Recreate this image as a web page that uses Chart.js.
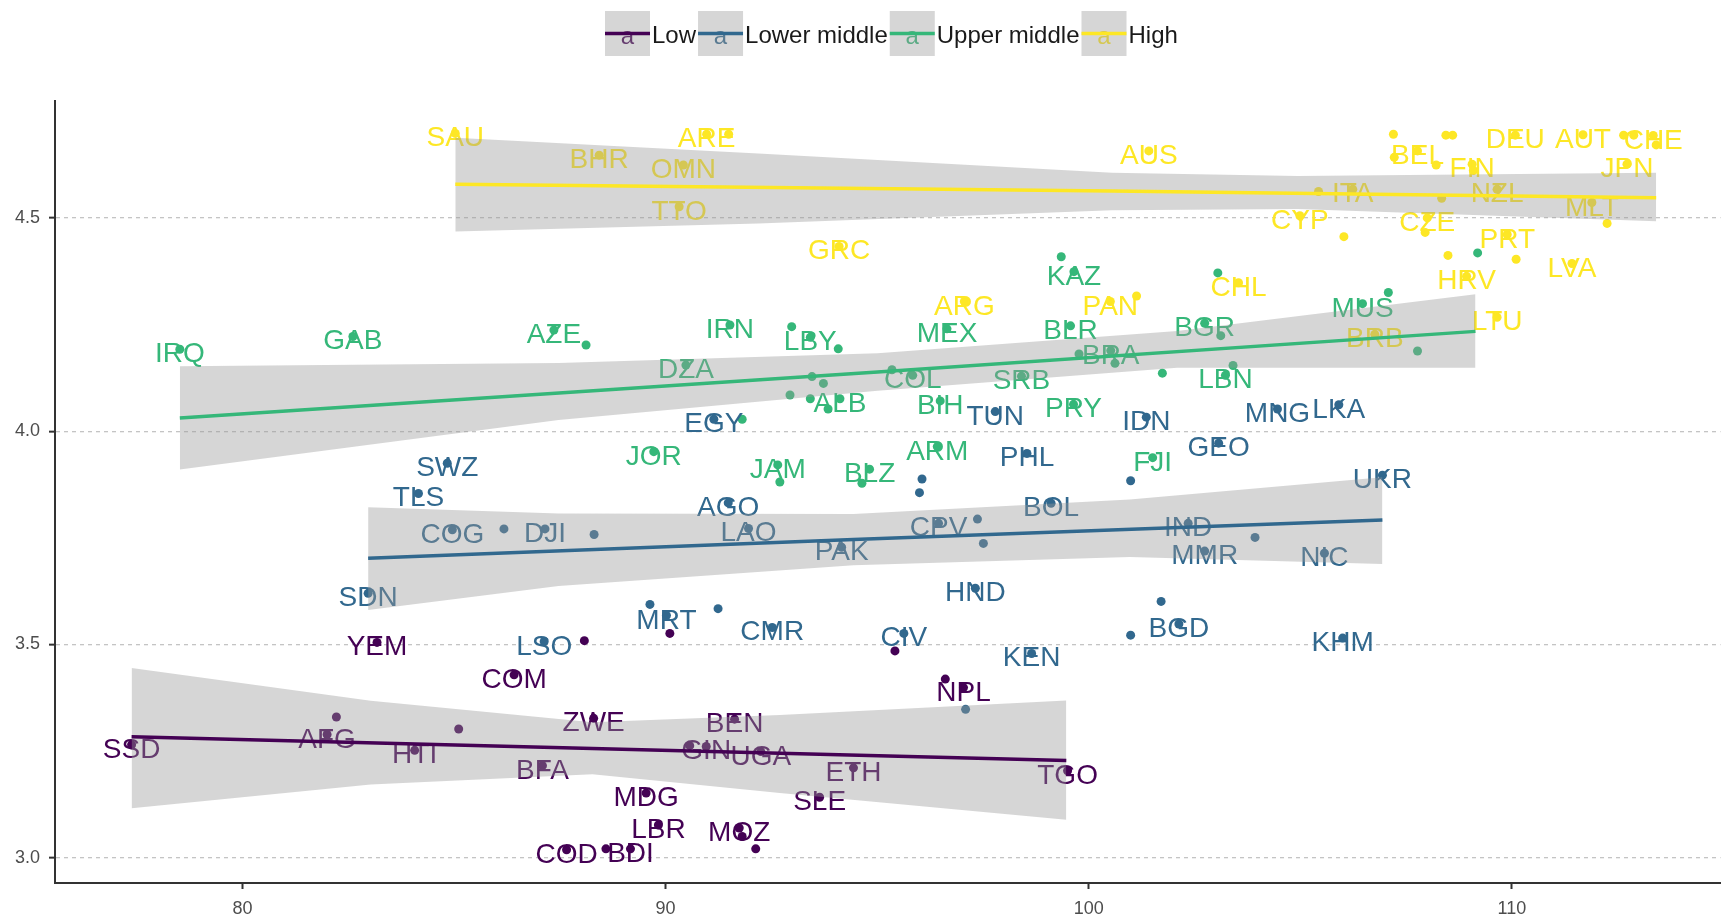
<!DOCTYPE html>
<html>
<head>
<meta charset="utf-8">
<title>Income groups</title>
<script src="https://cdn.jsdelivr.net/npm/chart.js@4.4.1/dist/chart.umd.min.js"></script>
<style>
  html, body { margin: 0; padding: 0; background: #fff; }
</style>
</head>
<body>
<canvas id="chart" width="1725" height="920"></canvas>
<script>
// Groups
const groupNames = ["Low", "Lower middle", "Upper middle", "High"];
const groupColors = ["#440154", "#31688E", "#35B779", "#FDE725"];

// Points: [x, y, label]  ('' = point whose label is hidden)
const lowPts = [
  [83.18, 3.505, "YEM"], [88.08, 3.509, ""], [86.42, 3.429, "COM"], [90.10, 3.526, ""],
  [95.42, 3.485, ""], [97.04, 3.399, "NPL"], [96.61, 3.419, ""], [77.38, 3.265, "SSD"],
  [82.00, 3.289, "AFG"], [82.22, 3.330, ""], [84.07, 3.252, "HTI"], [85.11, 3.302, ""],
  [87.09, 3.216, "BFA"], [88.30, 3.327, "ZWE"], [87.66, 3.019, "COD"], [88.59, 3.021, ""],
  [89.17, 3.021, "BDI"], [91.63, 3.325, "BEN"], [90.57, 3.263, ""], [90.96, 3.261, "GIN"],
  [92.25, 3.249, "UGA"], [94.44, 3.211, "ETH"], [93.64, 3.142, "SLE"], [89.54, 3.152, "MDG"],
  [89.83, 3.077, "LBR"], [91.74, 3.070, "MOZ"], [91.81, 3.050, ""], [92.13, 3.021, ""],
  [99.50, 3.204, "TGO"]
];

const lowerMidPts = [
  [91.14, 4.028, "EGY"], [97.79, 4.046, "TUN"], [101.36, 4.033, "IDN"], [104.46, 4.052, "MNG"],
  [105.91, 4.062, "LKA"], [84.84, 3.925, "SWZ"], [84.16, 3.854, "TLS"], [84.96, 3.769, "COG"],
  [86.18, 3.771, ""], [87.15, 3.771, "DJI"], [88.31, 3.758, ""], [82.97, 3.620, "SDN"],
  [87.13, 3.507, "LSO"], [98.54, 3.948, "PHL"], [96.06, 3.888, ""], [96.00, 3.856, ""],
  [100.99, 3.884, ""], [91.48, 3.832, "AGO"], [99.11, 3.831, "BOL"], [91.96, 3.772, "LAO"],
  [96.45, 3.784, "CPV"], [97.37, 3.794, ""], [97.51, 3.737, ""], [94.16, 3.728, "PAK"],
  [97.32, 3.632, "HND"], [89.63, 3.594, ""], [90.02, 3.568, "MRT"], [91.24, 3.584, ""],
  [92.52, 3.540, "CMR"], [95.63, 3.526, "CIV"], [98.65, 3.479, "KEN"], [100.99, 3.522, ""],
  [97.09, 3.348, ""], [103.07, 3.972, "GEO"], [106.94, 3.897, "UKR"], [102.35, 3.784, "IND"],
  [102.74, 3.719, "MMR"], [103.93, 3.751, ""], [105.57, 3.714, "NIC"], [101.71, 3.601, ""],
  [102.13, 3.548, "BGD"], [106.00, 3.515, "KHM"]
];

const upperMidPts = [
  [78.52, 4.192, "IRQ"], [82.61, 4.222, "GAB"], [87.36, 4.237, "AZE"], [88.12, 4.202, ""],
  [91.52, 4.249, "IRN"], [92.98, 4.245, ""], [93.42, 4.220, "LBY"], [94.08, 4.193, ""],
  [90.48, 4.155, "DZA"], [96.65, 4.240, "MEX"], [99.35, 4.409, ""], [99.65, 4.374, "KAZ"],
  [99.57, 4.247, "BLR"], [95.84, 4.131, "COL"], [95.35, 4.144, ""], [98.41, 4.129, "SRB"],
  [96.49, 4.071, "BIH"], [92.94, 4.085, ""], [93.42, 4.076, ""], [93.84, 4.052, ""],
  [94.12, 4.076, "ALB"], [93.46, 4.128, ""], [93.73, 4.112, ""], [91.81, 4.028, ""],
  [99.64, 4.063, "PRY"], [99.77, 4.181, ""], [100.52, 4.189, "BRA"], [100.62, 4.159, ""],
  [102.74, 4.253, "BGR"], [103.12, 4.224, ""], [103.05, 4.371, ""], [103.23, 4.131, "LBN"],
  [103.41, 4.154, ""], [101.74, 4.136, ""], [106.47, 4.299, "MUS"], [107.08, 4.325, ""],
  [109.19, 4.418, ""], [107.77, 4.188, ""], [89.72, 3.952, "JOR"], [92.65, 3.921, "JAM"],
  [92.70, 3.881, ""], [94.82, 3.911, "BLZ"], [94.64, 3.878, ""], [96.42, 3.964, "ARM"],
  [101.51, 3.938, "FJI"]
];

const highPts = [
  [85.03, 4.698, "SAU"], [88.43, 4.647, "BHR"], [90.97, 4.696, "ARE"], [91.49, 4.696, ""],
  [90.42, 4.624, "OMN"], [90.32, 4.526, "TTO"], [94.10, 4.433, "GRC"], [97.06, 4.304, "ARG"],
  [100.51, 4.304, "PAN"], [101.13, 4.317, ""], [101.42, 4.657, "AUS"], [103.54, 4.348, "CHL"],
  [104.99, 4.505, "CYP"], [105.43, 4.562, ""], [106.24, 4.567, "ITA"], [106.03, 4.456, ""],
  [108.00, 4.500, "CZE"], [107.95, 4.466, ""], [108.34, 4.546, ""], [107.20, 4.696, ""],
  [107.77, 4.657, "BEL"], [107.22, 4.642, ""], [108.21, 4.624, ""], [108.44, 4.694, ""],
  [108.60, 4.694, ""], [109.06, 4.626, "FIN"], [109.09, 4.611, ""], [110.08, 4.694, "DEU"],
  [111.68, 4.695, "AUT"], [112.64, 4.694, ""], [112.88, 4.694, ""], [113.34, 4.693, "CHE"],
  [113.41, 4.671, ""], [112.72, 4.626, "JPN"], [111.89, 4.536, "MLT"], [112.25, 4.487, ""],
  [109.65, 4.567, "NZL"], [109.89, 4.461, "PRT"], [108.93, 4.363, "HRV"], [108.49, 4.412, ""],
  [110.10, 4.403, ""], [111.42, 4.393, "LVA"], [109.65, 4.267, "LTU"], [106.76, 4.227, "BRB"]
];

// Fitted lines: [x, y]
const lowFit = [[77.38, 3.284], [88.27, 3.256], [99.47, 3.228]];
const lowerMidFit = [[82.97, 3.702], [94.44, 3.746], [106.94, 3.792]];
const upperMidFit = [[78.52, 4.031], [95.01, 4.139], [109.14, 4.234]];
const highFit = [[85.03, 4.579], [100.55, 4.563], [113.41, 4.547]];

// Confidence bands: [x, upper, lower]
const lowBand = [[77.38, 3.445, 3.116], [83.03, 3.368, 3.172], [88.27, 3.318, 3.196], [92.70, 3.335, 3.152], [99.47, 3.369, 3.089]];
const lowerMidBand = [[82.97, 3.822, 3.581], [87.47, 3.807, 3.637], [94.44, 3.806, 3.686], [100.97, 3.840, 3.705], [106.94, 3.892, 3.689]];
const upperMidBand = [[78.52, 4.152, 3.910], [87.47, 4.160, 4.026], [95.01, 4.183, 4.095], [102.09, 4.235, 4.149], [109.14, 4.321, 4.149]];
const highBand = [[85.03, 4.688, 4.468], [92.19, 4.651, 4.487], [100.55, 4.606, 4.518], [104.94, 4.598, 4.521], [113.41, 4.606, 4.492]];

// Axes
const xTicks = [80, 90, 100, 110];
const xTickLabels = ["80", "90", "100", "110"];
const yTicks = [3.0, 3.5, 4.0, 4.5];
const yTickLabels = ["3.0", "3.5", "4.0", "4.5"];
const xLimits = [75.57, 114.93];
const yLimits = [2.941, 4.774];

const FONT = '"Liberation Sans", Arial, sans-serif';
const BAND_FILL = "rgba(153,153,153,0.4)";

const allPts = [lowPts, lowerMidPts, upperMidPts, highPts];
const allFits = [lowFit, lowerMidFit, upperMidFit, highFit];
const allBands = [lowBand, lowerMidBand, upperMidBand, highBand];

const datasets = [];

// points first (index 0..3), drawn under everything else
allPts.forEach((pts, g) => {
  datasets.push({
    type: "scatter",
    label: groupNames[g],
    data: pts.map(p => ({ x: p[0], y: p[1] })),
    backgroundColor: groupColors[g],
    borderWidth: 0,
    pointRadius: 4.5,
    pointHoverRadius: 4.5,
    order: 3
  });
});

// bands: upper edge, then lower edge filled to the one before
allBands.forEach((band) => {
  datasets.push({
    type: "line",
    data: band.map(b => ({ x: b[0], y: b[1] })),
    showLine: true,
    borderWidth: 0,
    pointRadius: 0,
    fill: false,
    order: 2
  });
  datasets.push({
    type: "line",
    data: band.map(b => ({ x: b[0], y: b[2] })),
    showLine: true,
    borderWidth: 0,
    pointRadius: 0,
    fill: "-1",
    backgroundColor: BAND_FILL,
    order: 2
  });
});

// fit lines on top
allFits.forEach((fit, g) => {
  datasets.push({
    type: "line",
    data: fit.map(f => ({ x: f[0], y: f[1] })),
    showLine: true,
    borderColor: groupColors[g],
    borderWidth: 3.5,
    pointRadius: 0,
    fill: false,
    tension: 0,
    order: 1
  });
});

// Country codes, drawn right after the points and before the grey bands
const pointLabels = {
  id: "pointLabels",
  afterDatasetDraw(chart, args) {
    if (args.index !== 0) return; // dataset 0 is the last point layer drawn
    const { ctx, chartArea } = chart;
    const xs = chart.scales.x, ys = chart.scales.y;
    ctx.save();
    ctx.beginPath();
    ctx.rect(chartArea.left, chartArea.top, chartArea.right - chartArea.left, chartArea.bottom - chartArea.top);
    ctx.clip();
    ctx.font = "28px " + FONT;
    ctx.textAlign = "center";
    ctx.textBaseline = "alphabetic";
    allPts.forEach((pts, g) => {
      ctx.fillStyle = groupColors[g];
      pts.forEach(p => {
        if (!p[2]) return;
        ctx.fillText(p[2], xs.getPixelForValue(p[0]), ys.getPixelForValue(p[1]) + 13);
      });
    });
    ctx.restore();
  }
};

// ggplot-style legend keys above the panel
const topLegend = {
  id: "topLegend",
  afterDraw(chart) {
    const ctx = chart.ctx;
    const size = 45, top = 11, cy = top + size / 2;
    let x = 605;
    ctx.save();
    groupNames.forEach((name, i) => {
      ctx.fillStyle = "#fff";
      ctx.fillRect(x, top, size, size);
      ctx.font = "24px " + FONT;
      ctx.textAlign = "center";
      ctx.textBaseline = "middle";
      ctx.fillStyle = groupColors[i];
      ctx.fillText("a", x + size / 2, cy + 4);
      ctx.fillStyle = BAND_FILL;
      ctx.fillRect(x, top, size, size);
      ctx.strokeStyle = groupColors[i];
      ctx.lineWidth = 3.5;
      ctx.beginPath();
      ctx.moveTo(x, cy);
      ctx.lineTo(x + size, cy);
      ctx.stroke();
      x += size + 2;
      ctx.fillStyle = "#1a1a1a";
      ctx.textAlign = "left";
      ctx.fillText(name, x, cy + 3);
      x += ctx.measureText(name).width + 2;
    });
    ctx.restore();
  }
};

Chart.defaults.font.family = FONT;

new Chart(document.getElementById("chart"), {
  type: "scatter",
  data: { datasets },
  plugins: [pointLabels, topLegend],
  options: {
    responsive: false,
    animation: false,
    events: [],
    layout: { padding: { top: 101, left: 0, right: 0, bottom: 0 } },
    plugins: {
      legend: { display: false },
      tooltip: { enabled: false }
    },
    scales: {
      x: {
        type: "linear",
        min: xLimits[0],
        max: xLimits[1],
        afterBuildTicks: s => { s.ticks = xTicks.map(v => ({ value: v })); },
        afterFit: s => { s.height = 37; },
        ticks: {
          padding: 9,
          color: "#4d4d4d",
          font: { size: 18 },
          maxRotation: 0,
          callback: (v, i) => xTickLabels[i]
        },
        grid: { drawOnChartArea: false, drawTicks: true, tickLength: 6, tickColor: "#333", tickWidth: 2 },
        border: { display: true, color: "#333", width: 2 }
      },
      y: {
        type: "linear",
        min: yLimits[0],
        max: yLimits[1],
        afterBuildTicks: s => { s.ticks = yTicks.map(v => ({ value: v })); },
        afterFit: s => { s.width = 55; },
        ticks: {
          padding: 9,
          color: "#4d4d4d",
          font: { size: 18 },
          callback: (v, i) => yTickLabels[i]
        },
        grid: { color: "#c4c4c4", lineWidth: 1.3, drawTicks: true, tickLength: 6, tickColor: "#333", tickWidth: 2 },
        border: { display: true, color: "#333", width: 2, dash: [4, 4] }
      }
    }
  }
});
</script>
</body>
</html>
